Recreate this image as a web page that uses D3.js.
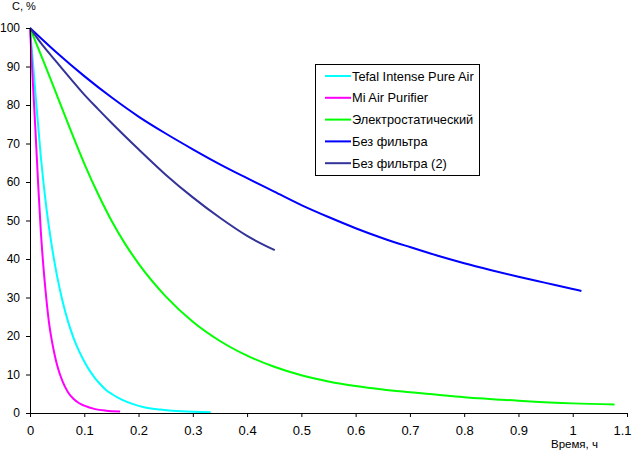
<!DOCTYPE html>
<html><head><meta charset="utf-8">
<script src="https://cdn.jsdelivr.net/npm/d3@7"></script>
<style>
body{margin:0;background:#fff;}
svg{display:block;font-family:"Liberation Sans",Arial,sans-serif;}
</style></head>
<body>
<svg id="chart" width="633" height="450"></svg>
<script>
const xTicks = [0,0.1,0.2,0.3,0.4,0.5,0.6,0.7,0.8,0.9,1,1.1];
const xTickLabels = ["0","0.1","0.2","0.3","0.4","0.5","0.6","0.7","0.8","0.9","1","1.1"];
const yTicks = [0,10,20,30,40,50,60,70,80,90,100];
const seriesNames = ["Tefal Intense Pure Air","Mi Air Purifier","Электростатический","Без фильтра","Без фильтра (2)"];
const seriesColors = ["#00FFFF","#FF00FF","#00FF00","#0000FF","#333399"];

const tefalT = [0,0.005,0.01,0.02,0.03,0.04,0.05,0.06,0.07,0.08,0.09,0.1,0.11,0.12,0.13,0.14,0.15,0.17,0.19,0.21,0.24,0.27,0.30,0.333];
const tefalC = [100,91.8,83,66.5,53.5,43.5,35.5,29,23.8,19.6,16.2,13.4,11.0,9.0,7.4,6.0,5.0,3.4,2.3,1.5,0.9,0.5,0.35,0.2];

const miT = [0,0.005,0.01,0.015,0.02,0.025,0.03,0.035,0.04,0.045,0.05,0.06,0.07,0.08,0.09,0.1,0.12,0.14,0.166];
const miC = [100,86.5,73.5,59.5,47,37.5,29.8,23.5,19.0,15.4,12.4,8.2,5.4,3.7,2.6,1.9,1.0,0.6,0.4];

const elecT = [0,0.025,0.05,0.075,0.1,0.125,0.15,0.175,0.2,0.25,0.3,0.35,0.4,0.45,0.5,0.55,0.6,0.65,0.7,0.8,0.9,1.0,1.077];
const elecC = [100,91.3,82.4,73.4,64.8,57,50,44,38.8,30.3,23.7,18.7,14.9,12.0,9.8,8.2,7.0,6.1,5.4,4.1,3.2,2.5,2.2];

const blueT = [0,0.05,0.1,0.15,0.2,0.25,0.3,0.35,0.4,0.45,0.5,0.55,0.6,0.65,0.7,0.75,0.8,0.85,0.9,0.95,1.0,1.016];
const blueC = [100,93.5,87.5,82,77,72.6,68.5,64.6,61.0,57.5,54.0,50.9,48.0,45.4,43.1,40.9,38.9,37.1,35.4,33.8,32.2,31.7];

const navyT = [0,0.025,0.05,0.075,0.1,0.125,0.15,0.2,0.25,0.3,0.35,0.4,0.451];
const navyC = [100,95.2,91.0,86.8,82.7,79.0,75.4,68.5,61.9,56.0,50.7,46.0,42.3];

const seriesT = [tefalT, miT, elecT, blueT, navyT];
const seriesC = [tefalC, miC, elecC, blueC, navyC];

const svg = d3.select("#chart");
const x = d3.scaleLinear().domain([0,1.1]).range([30,627]);
const y = d3.scaleLinear().domain([0,100]).range([413,28]);

// series
const line = d3.line().x(d=>x(d[0])).y(d=>y(d[1])).curve(d3.curveMonotoneX);
seriesT.forEach((ts,i)=>{
  const pts = ts.map((t,j)=>[t, seriesC[i][j]]);
  svg.append("path").datum(pts).attr("d",line)
    .attr("fill","none").attr("stroke",seriesColors[i]).attr("stroke-width",2)
    .attr("stroke-linejoin","round");
});

// axes
const xAxis = d3.axisBottom(x).tickValues(xTicks).tickFormat((d,i)=>xTickLabels[i]).tickSize(4).tickPadding(9).tickSizeOuter(0);
const gx = svg.append("g").attr("transform","translate(0,413)").call(xAxis);
gx.selectAll("text").attr("font-size",13).attr("fill","#000").attr("font-family","Liberation Sans, Arial, sans-serif");
gx.selectAll(".tick").filter(d=>d===1.1).select("text").attr("dx",-5);
gx.select(".domain").attr("stroke","#000");
gx.selectAll(".tick line").attr("stroke","#000");

const yAxis = d3.axisLeft(y).tickValues(yTicks).tickSize(4).tickPadding(6).tickSizeOuter(0);
const gy = svg.append("g").attr("transform","translate(30,0)").call(yAxis);
gy.selectAll("text").attr("font-size",12).attr("fill","#000").attr("font-family","Liberation Sans, Arial, sans-serif");
gy.select(".domain").attr("stroke","#000");
gy.selectAll(".tick line").attr("stroke","#000");

// axis titles
svg.append("text").attr("x",12).attr("y",10).attr("font-size",11).text("С, %");
svg.append("text").attr("x",551).attr("y",448).attr("font-size",11.5).text("Время, ч");

// legend
const lg = svg.append("g");
lg.append("rect").attr("x",315.5).attr("y",64.5).attr("width",164).attr("height",111)
  .attr("fill","#fff").attr("stroke","#000").attr("stroke-width",1);
seriesNames.forEach((n,i)=>{
  const yy = 76 + i*21.8;
  lg.append("line").attr("x1",325).attr("x2",351).attr("y1",yy).attr("y2",yy)
    .attr("stroke",seriesColors[i]).attr("stroke-width",2);
  lg.append("text").attr("x",352).attr("y",yy+4.5).attr("font-size",12.8).text(n);
});
</script>
</body></html>
